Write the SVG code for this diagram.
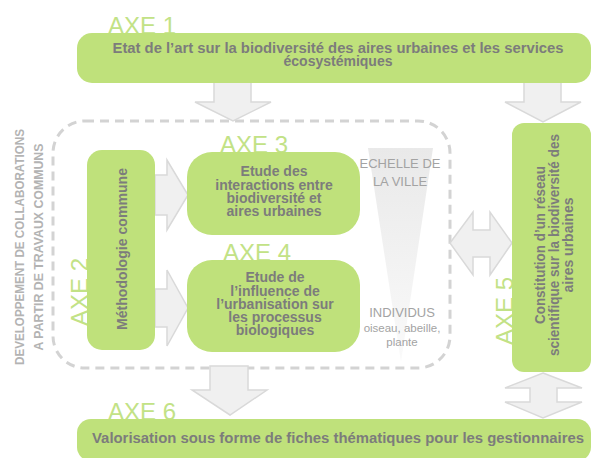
<svg xmlns="http://www.w3.org/2000/svg" width="592" height="458" viewBox="0 0 592 458">
<defs>
<style>
.box{fill:#bfe17b;}
.axe{font-family:"Liberation Sans",Arial,sans-serif;font-size:24px;fill:#c2e286;}
.t{font-family:"Liberation Sans",Arial,sans-serif;font-size:14px;font-weight:bold;fill:#7c7c7c;text-anchor:middle;}
.g{font-family:"Liberation Sans",Arial,sans-serif;fill:#a3a3a3;text-anchor:middle;}
.side{font-family:"Liberation Sans",Arial,sans-serif;font-size:13px;fill:#b3b3b3;text-anchor:middle;font-weight:bold;}
.arr{fill:#f0f0f0;stroke:#d9d9d9;stroke-width:1.5;stroke-linejoin:miter;}
</style>
<linearGradient id="wedge" x1="0" y1="0" x2="0" y2="1">
<stop offset="0" stop-color="#e9e9e9"/>
<stop offset="1" stop-color="#fafafa"/>
</linearGradient>
</defs>
<rect width="592" height="458" fill="#ffffff"/>

<g id="side-label">
<text class="side" transform="translate(24,247) rotate(-90)" textLength="236" lengthAdjust="spacingAndGlyphs">DEVELOPPEMENT DE COLLABORATIONS</text>
<text class="side" transform="translate(43,247) rotate(-90)" textLength="207" lengthAdjust="spacingAndGlyphs">A PARTIR DE TRAVAUX COMMUNS</text>
</g>

<g id="group-frame">
<rect x="53" y="121" width="397" height="247" rx="32" fill="none" stroke="#d3d3d3" stroke-width="3" stroke-dasharray="9 6"/>
</g>

<g id="scale">
<polygon points="368,148 433,148 401,362" fill="url(#wedge)"/>
<text class="g" x="400" y="168" font-size="13">ECHELLE DE</text>
<text class="g" x="400" y="186" font-size="13">LA VILLE</text>
<text class="g" x="402" y="317" font-size="13">INDIVIDUS</text>
<text class="g" x="402" y="332" font-size="11.5">oiseau, abeille,</text>
<text class="g" x="402" y="346" font-size="11.5">plante</text>
</g>

<g id="connectors">
<polygon class="arr" points="214,82 251,82 251,102 271,102 233,121 195,102 214,102"/>
<polygon class="arr" points="524,82 561,82 561,102 581,102 543,122 505,102 524,102"/>
<polygon class="arr" points="155,175 167,175 167,160 188,195 167,230 167,215 155,215"/>
<polygon class="arr" points="155,289 167,289 167,270 188,308 167,346 167,327 155,327"/>
<polygon class="arr" points="450,243 473,212 473,230 490,230 490,212 512,243 490,275 490,257 473,257 473,275"/>
<polygon class="arr" points="210,366 248,366 248,390 267,390 230,415 192,390 210,390"/>
<polygon class="arr" points="543,373 582,388 557,388 557,402 582,402 543,418 505,402 530,402 530,388 505,388"/>
</g>

<g id="axe1">
<text class="axe" x="108" y="34">AXE 1</text>
<rect class="box" x="77" y="33" width="514" height="50" rx="15"/>
<text class="t" x="338" y="53" textLength="451" lengthAdjust="spacingAndGlyphs">Etat de l’art sur la biodiversité des aires urbaines et les services</text>
<text class="t" x="338" y="66">écosystémiques</text>
</g>

<g id="axe2">
<text class="axe" transform="translate(88,292) rotate(-90)" text-anchor="middle">AXE 2</text>
<rect class="box" x="87" y="150" width="68" height="200" rx="15"/>
<text class="t" transform="translate(127,249) rotate(-90)" textLength="162" lengthAdjust="spacingAndGlyphs">Méthodologie commune</text>
</g>

<g id="axe3">
<text class="axe" x="220" y="153">AXE 3</text>
<rect class="box" x="187" y="152" width="173" height="83" rx="25"/>
<text class="t" x="274" y="176">Etude des</text>
<text class="t" x="274" y="190">interactions entre</text>
<text class="t" x="274" y="203">biodiversité et</text>
<text class="t" x="274" y="216">aires urbaines</text>
</g>

<g id="axe4">
<text class="axe" x="223" y="261">AXE 4</text>
<rect class="box" x="187" y="260" width="173" height="92" rx="25"/>
<text class="t" x="275" y="282">Etude de</text>
<text class="t" x="275" y="296">l’influence de</text>
<text class="t" x="275" y="309">l’urbanisation sur</text>
<text class="t" x="275" y="322">les processus</text>
<text class="t" x="275" y="335">biologiques</text>
</g>

<g id="axe5">
<text class="axe" transform="translate(513,311) rotate(-90)" text-anchor="middle">AXE 5</text>
<rect class="box" x="512" y="123" width="79" height="249" rx="12"/>
<text class="t" transform="translate(545,245) rotate(-90)" textLength="158" lengthAdjust="spacingAndGlyphs">Constitution d’un réseau</text>
<text class="t" transform="translate(559,245) rotate(-90)" textLength="222" lengthAdjust="spacingAndGlyphs">scientifique sur la biodiversité des</text>
<text class="t" transform="translate(573,245) rotate(-90)">aires urbaines</text>
</g>

<g id="axe6">
<text class="axe" x="108" y="420">AXE 6</text>
<rect class="box" x="77" y="419" width="514" height="42" rx="14"/>
<text class="t" x="338" y="443" textLength="492" lengthAdjust="spacingAndGlyphs">Valorisation sous forme de fiches thématiques pour les gestionnaires</text>
</g>
</svg>
